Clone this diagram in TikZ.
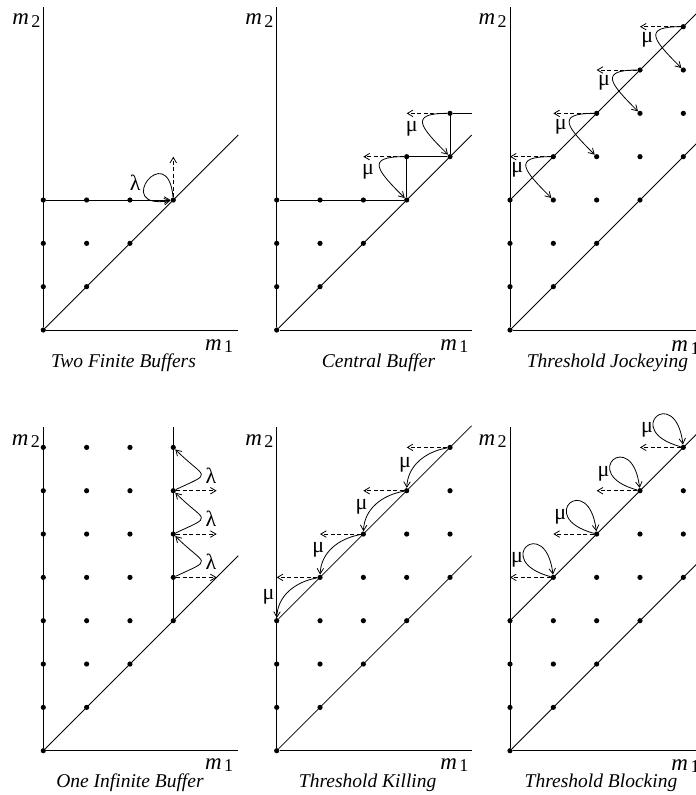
\documentclass[tikz,border=0pt]{standalone}
\usepackage{fontspec}
\setmainfont{Liberation Serif}
\usetikzlibrary{arrows.meta}
\tikzset{
  dot/.style={circle,fill=black,inner sep=0pt,minimum size=5.2bp},
  ln/.style={line width=0.8bp},
  arr/.style={ln,-{Straight Barb[length=5.5bp,width=6.5bp]}},
  darr/.style={arr,dash pattern=on 4bp off 2.5bp},
  captxt/.style={font=\fontsize{19.5bp}{21bp}\selectfont\itshape,anchor=base,inner sep=0pt},
  gk/.style={font=\fontsize{22bp}{24bp}\selectfont,inner sep=0pt},
  axlab/.style={anchor=base west,inner sep=0pt},
  panel/.style={x=43.33bp,y=43.33bp}
}
\newcommand{\mlab}[1]{{\fontsize{23bp}{25bp}\selectfont\itshape m}\hspace{2.5bp}\raisebox{-2.5bp}{\fontsize{18bp}{20bp}\selectfont #1}}
\def\tjdots{0/0,0/1,1/1,0/2,1/2,2/2,0/3,1/3,2/3,3/3,1/4,2/4,3/4,4/4,2/5,3/5,4/5,3/6,4/6,4/7}
\begin{document}
\begin{tikzpicture}
\useasboundingbox (0,0) rectangle (696bp,-795bp);
\clip (0,0) rectangle (696bp,-795bp);

% ---------- Panel A: Two Finite Buffers
\begin{scope}[shift={(43.3bp,-330bp)},panel]
  \foreach \x/\y in {0/0,0/1,1/1,0/2,1/2,2/2,0/3,1/3,2/3,3/3}
    \node[dot] (A-\x-\y) at (\x,\y) {};
  \coordinate (A-top) at (0,7.46);
  \coordinate (A-xr) at (4.5,0);
  \coordinate (A-dr) at (4.5,4.5);
  \coordinate (A-up) at (3,4);
  \draw[ln] (A-0-0) -- (A-top);
  \draw[ln] (A-0-0) -- (A-xr);
  \draw[ln] (A-0-0) -- (A-dr);
  \draw[arr] (A-0-3) -- (A-3-3);
  \draw[arr] (A-3-3) to[out=95,in=190,min distance=60bp] (A-3-3);
  \draw[darr] (A-3-3) -- (A-up);
  \node[gk] (A-lam) at (2.12,3.39) {λ};
  \node[axlab] (A-m2) at (-0.72,7.04) {\mlab{2}};
  \node[axlab] (A-m1) at (3.73,-0.47) {\mlab{1}};
  \node[captxt] (A-cap) at (1.85,-0.86) {Two Finite Buffers};
\end{scope}

% ---------- Panel B: Central Buffer
\begin{scope}[shift={(276.7bp,-330bp)},panel]
  \foreach \x/\y in {0/0,0/1,1/1,0/2,1/2,2/2,0/3,1/3,2/3,3/3,3/4,4/4,4/5}
    \node[dot] (B-\x-\y) at (\x,\y) {};
  \coordinate (B-top) at (0,7.46);
  \coordinate (B-xr) at (4.5,0);
  \coordinate (B-dr) at (4.5,4.5);
  \coordinate (B-end) at (4.5,5);
  \coordinate (B-l1) at (2,4);
  \coordinate (B-l2) at (3,5);
  \draw[ln] (B-0-0) -- (B-top);
  \draw[ln] (B-0-0) -- (B-xr);
  \draw[ln] (B-0-0) -- (B-dr);
  \draw[ln] (B-0-3) -- (B-3-3);
  \draw[ln] (B-3-3) -- (B-3-4);
  \draw[ln] (B-3-4) -- (B-4-4);
  \draw[ln] (B-4-4) -- (B-4-5);
  \draw[ln] (B-4-5) -- (B-end);
  \draw[darr] (B-3-4) -- (B-l1);
  \draw[darr] (B-4-5) -- (B-l2);
  \draw[arr] (B-3-4) to[out=180,in=135,looseness=2.4] (B-3-3);
  \draw[arr] (B-4-5) to[out=180,in=135,looseness=2.4] (B-4-4);
  \node[gk] (B-mu1) at (2.11,3.65) {μ};
  \node[gk] (B-mu2) at (3.12,4.65) {μ};
  \node[axlab] (B-m2) at (-0.73,7.04) {\mlab{2}};
  \node[axlab] (B-m1) at (3.77,-0.47) {\mlab{1}};
  \node[captxt] (B-cap) at (2.35,-0.86) {Central Buffer};
\end{scope}

% ---------- Panel C: Threshold Jockeying
\begin{scope}[shift={(510bp,-330bp)},panel]
  \foreach \x/\y in \tjdots
    \node[dot] (C-\x-\y) at (\x,\y) {};
  \coordinate (C-top) at (0,7.46);
  \coordinate (C-xr) at (4.5,0);
  \coordinate (C-dr) at (4.5,4.5);
  \coordinate (C-ur) at (4.5,7.5);
  \draw[ln] (C-0-0) -- (C-top);
  \draw[ln] (C-0-0) -- (C-xr);
  \draw[ln] (C-0-0) -- (C-dr);
  \draw[ln] (C-0-3) -- (C-ur);
  \foreach \k [evaluate=\k as \a using int(\k+3),
               evaluate=\k as \b using int(\k+2),
               evaluate=\k as \m using int(\k-1)] in {1,...,4} {
    \coordinate (C-l\k) at (\m,\a);
    \draw[darr] (C-\k-\a) -- (C-l\k);
    \draw[arr] (C-\k-\a) to[out=180,in=135,looseness=2.4] (C-\k-\b);
    \node[gk] (C-mu\k) at ({\k-0.83},{\k+2.7}) {μ};
  }
  \node[axlab] (C-m2) at (-0.73,7.04) {\mlab{2}};
  \node[axlab] (C-m1) at (3.72,-0.5) {\mlab{1}};
  \node[captxt] (C-cap) at (2.25,-0.86) {Threshold Jockeying};
\end{scope}

% ---------- Panel D: One Infinite Buffer
\begin{scope}[shift={(43.3bp,-750.7bp)},panel]
  \foreach \y in {0,...,7} \node[dot] (D-0-\y) at (0,\y) {};
  \foreach \y in {1,...,7} \node[dot] (D-1-\y) at (1,\y) {};
  \foreach \y in {2,...,7} \node[dot] (D-2-\y) at (2,\y) {};
  \foreach \y in {3,...,7} \node[dot] (D-3-\y) at (3,\y) {};
  \coordinate (D-top) at (0,7.46);
  \coordinate (D-xr) at (4.5,0);
  \coordinate (D-dr) at (4.5,4.5);
  \coordinate (D-vt) at (3,7.46);
  \draw[ln] (D-0-0) -- (D-top);
  \draw[ln] (D-0-0) -- (D-xr);
  \draw[ln] (D-0-0) -- (D-dr);
  \draw[ln] (D-3-3) -- (D-vt);
  \foreach \k [evaluate=\k as \a using int(\k+1)] in {4,5,6} {
    \coordinate (D-r\k) at (4,\k);
    \draw[darr] (D-3-\k) -- (D-r\k);
    \draw[arr] (D-3-\k) to[out=25,in=-45,looseness=2.7] (D-3-\a);
    \node[gk] (D-lam\k) at (3.87,{\k+0.35}) {λ};
  }
  \node[axlab] (D-m2) at (-0.73,7.05) {\mlab{2}};
  \node[axlab] (D-m1) at (3.73,-0.43) {\mlab{1}};
  \node[captxt] (D-cap) at (2.0,-0.86) {One Infinite Buffer};
\end{scope}

% ---------- Panel E: Threshold Killing
\begin{scope}[shift={(276.7bp,-750.7bp)},panel]
  \foreach \x/\y in \tjdots
    \node[dot] (E-\x-\y) at (\x,\y) {};
  \coordinate (E-top) at (0,7.46);
  \coordinate (E-xr) at (4.5,0);
  \coordinate (E-dr) at (4.5,4.5);
  \coordinate (E-ur) at (4.5,7.5);
  \draw[ln] (E-0-0) -- (E-top);
  \draw[ln] (E-0-0) -- (E-xr);
  \draw[ln] (E-0-0) -- (E-dr);
  \draw[ln] (E-0-3) -- (E-ur);
  \foreach \k [evaluate=\k as \a using int(\k+3),
               evaluate=\k as \b using int(\k+2),
               evaluate=\k as \m using int(\k-1)] in {1,...,4} {
    \coordinate (E-l\k) at (\m,\a);
    \draw[darr] (E-\k-\a) -- (E-l\k);
    \draw[arr] (E-\k-\a) to[out=190,in=88] (E-\m-\b);
  }
  \node[gk] (E-mu1) at (-0.19,3.55) {μ};
  \node[gk] (E-mu2) at (0.96,4.63) {μ};
  \node[gk] (E-mu3) at (1.96,5.63) {μ};
  \node[gk] (E-mu4) at (2.96,6.6) {μ};
  \node[axlab] (E-m2) at (-0.73,7.05) {\mlab{2}};
  \node[axlab] (E-m1) at (3.77,-0.43) {\mlab{1}};
  \node[captxt] (E-cap) at (2.1,-0.86) {Threshold Killing};
\end{scope}

% ---------- Panel F: Threshold Blocking
\begin{scope}[shift={(510bp,-750.7bp)},panel]
  \foreach \x/\y in \tjdots
    \node[dot] (F-\x-\y) at (\x,\y) {};
  \coordinate (F-top) at (0,7.46);
  \coordinate (F-xr) at (4.5,0);
  \coordinate (F-dr) at (4.5,4.5);
  \coordinate (F-ur) at (4.5,7.5);
  \draw[ln] (F-0-0) -- (F-top);
  \draw[ln] (F-0-0) -- (F-xr);
  \draw[ln] (F-0-0) -- (F-dr);
  \draw[ln] (F-0-3) -- (F-ur);
  \foreach \k [evaluate=\k as \a using int(\k+3),
               evaluate=\k as \m using int(\k-1)] in {1,...,4} {
    \coordinate (F-l\k) at (\m,\a);
    \draw[darr] (F-\k-\a) -- (F-l\k);
    \draw[arr] (F-\k-\a) to[out=165,in=97,min distance=62bp] (F-\k-\a);
    \node[gk] (F-mu\k) at ({\k-0.84},{\k+3.4}) {μ};
  }
  \node[axlab] (F-m2) at (-0.73,7.05) {\mlab{2}};
  \node[axlab] (F-m1) at (3.72,-0.45) {\mlab{1}};
  \node[captxt] (F-cap) at (2.1,-0.86) {Threshold Blocking};
\end{scope}
\end{tikzpicture}
\end{document}
